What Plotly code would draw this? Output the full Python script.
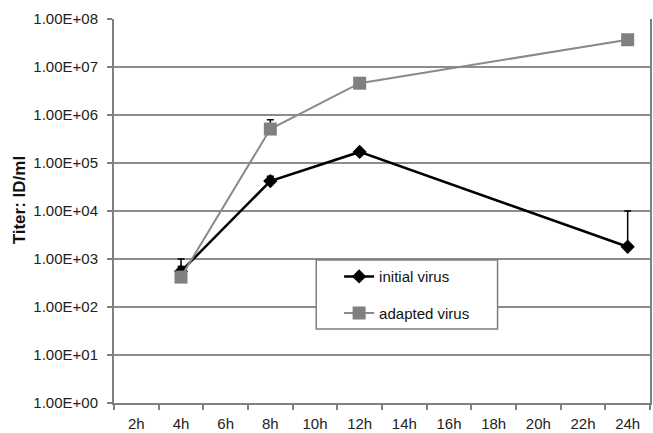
import plotly.graph_objects as go

categories = ["2h", "4h", "6h", "8h", "10h", "12h", "14h", "16h", "18h", "20h", "22h", "24h"]
sample_times = ["4h", "8h", "12h", "24h"]

initial_virus = [550, 4.2e4, 1.7e5, 1.8e3]
initial_err_plus = [450, 1.1e4, 0, 8.2e3]

adapted_virus = [420, 5.1e5, 4.6e6, 3.7e7]
adapted_err_plus = [280, 2.9e5, 0, 0]

ytick_vals = [1e0, 1e1, 1e2, 1e3, 1e4, 1e5, 1e6, 1e7, 1e8]
ytick_text = ["1.00E+00", "1.00E+01", "1.00E+02", "1.00E+03", "1.00E+04",
              "1.00E+05", "1.00E+06", "1.00E+07", "1.00E+08"]

FONT = "Liberation Sans, Arial, sans-serif"
AXIS_COL = "#7f7f7f"

fig = go.Figure()
fig.add_trace(go.Scatter(
    x=sample_times, y=initial_virus, name="initial virus", mode="lines+markers",
    legendgroup="a",
    line=dict(color="black", width=2.5),
    marker=dict(symbol="diamond", size=11, color="black"),
    error_y=dict(type="data", array=initial_err_plus, arrayminus=[0, 0, 0, 0],
                 symmetric=False, color="black", thickness=1.5, width=3.5),
))
fig.add_trace(go.Scatter(
    x=sample_times, y=adapted_virus, name="adapted virus", mode="lines+markers",
    legendgroup="b",
    line=dict(color="#8a8a8a", width=2),
    marker=dict(symbol="square", size=13, color="#808080"),
    error_y=dict(type="data", array=adapted_err_plus, arrayminus=[0, 0, 0, 0],
                 symmetric=False, color="black", thickness=1.5, width=3.5),
))

fig.update_layout(
    width=653, height=433,
    margin=dict(l=114, r=1, t=19, b=30),
    paper_bgcolor="white", plot_bgcolor="white",
    font=dict(family=FONT, color="#222222"),
    showlegend=True,
    legend=dict(
        x=0.42, y=0.372, xanchor="left", yanchor="top",
        bgcolor="rgba(0,0,0,0)", borderwidth=0,
        font=dict(size=15, family=FONT, color="#111111"),
        traceorder="grouped", tracegroupgap=14,
    ),
    shapes=[dict(type="rect", xref="paper", yref="paper",
                 x0=(317 - 114) / 538, x1=(499 - 114) / 538,
                 y0=(403 - 329) / 384, y1=(403 - 260) / 384,
                 line=dict(color=AXIS_COL, width=1.5), fillcolor="white", layer="above")],
    annotations=[dict(text="<b>Titer: ID/ml</b>", textangle=-90, xref="paper", yref="paper",
                      x=-(114 - 19) / 538, y=(403 - 200) / 384, xanchor="center", yanchor="middle",
                      showarrow=False, font=dict(size=17, family=FONT, color="#111111"))],
)

fig.update_xaxes(
    type="category", categoryorder="array", categoryarray=categories,
    range=[-0.5, 11.5], tickson="boundaries",
    showline=True, linecolor=AXIS_COL, linewidth=2,
    ticks="outside", ticklen=5, tickcolor=AXIS_COL, tickwidth=1.5,
    ticklabelstandoff=6,
    showgrid=False, zeroline=False,
    tickfont=dict(size=15, family=FONT, color="#222222"),
)
fig.update_yaxes(
    type="log", range=[0, 8],
    tickvals=ytick_vals, ticktext=ytick_text,
    showline=True, linecolor=AXIS_COL, linewidth=2, mirror=True,
    ticks="outside", ticklen=5, tickcolor=AXIS_COL, tickwidth=1.5,
    ticklabelstandoff=6,
    showgrid=True, gridcolor="#8c8c8c", gridwidth=1.5, zeroline=False,
    tickfont=dict(size=15, family=FONT, color="#222222"),
)

fig.write_html("out.html")
